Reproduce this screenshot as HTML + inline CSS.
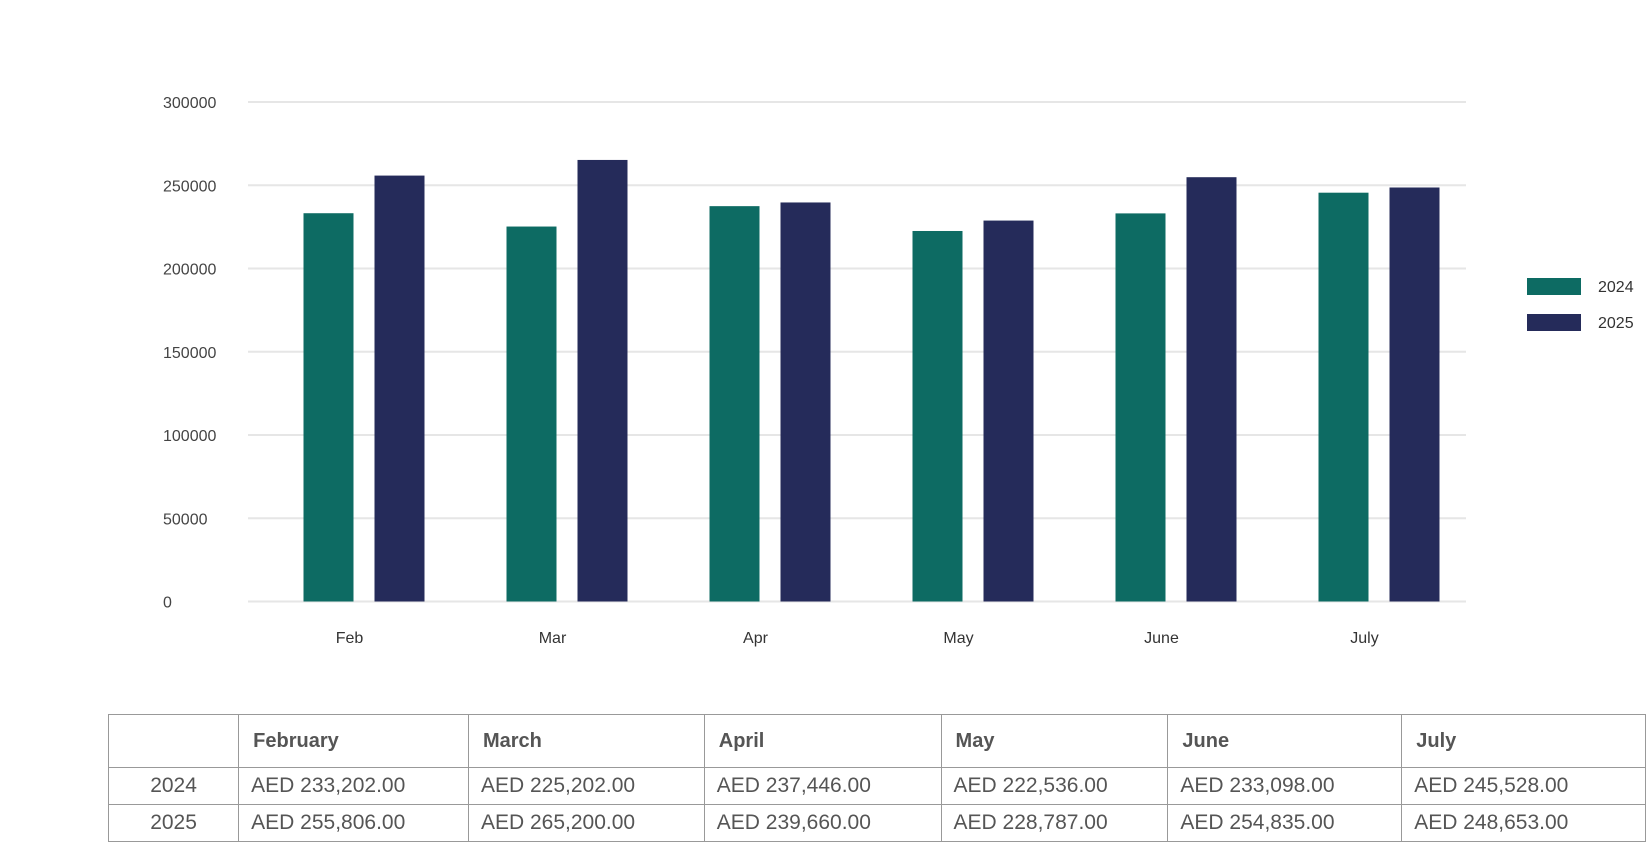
<!DOCTYPE html>
<html><head><meta charset="utf-8"><style>
body{margin:0;width:1646px;height:850px;background:#fff;overflow:hidden;font-family:"Liberation Sans",sans-serif;position:relative}
svg{position:absolute;left:0;top:0}
table{position:absolute;left:108px;top:714px;border-collapse:collapse;color:#555;font-size:21px}
td{border:1.5px solid #999;padding:0 0 0 12px;height:36px}
tr.h td{font-weight:bold;height:52px;font-size:20px;padding-left:14px}
td.y{text-align:center;padding:0}
</style></head><body>
<svg id="chart" width="1646" height="700"></svg>
<table>
<tr class="h"><td style="width:116px"></td><td style="width:216px">February</td><td style="width:222px">March</td><td style="width:223px">April</td><td style="width:213px">May</td><td style="width:220px">June</td><td style="width:230px">July</td></tr>
<tr><td class="y">2024</td><td>AED 233,202.00</td><td>AED 225,202.00</td><td>AED 237,446.00</td><td>AED 222,536.00</td><td>AED 233,098.00</td><td>AED 245,528.00</td></tr>
<tr><td class="y">2025</td><td>AED 255,806.00</td><td>AED 265,200.00</td><td>AED 239,660.00</td><td>AED 228,787.00</td><td>AED 254,835.00</td><td>AED 248,653.00</td></tr>
</table>
<script>
const categories=["Feb","Mar","Apr","May","June","July"];
const series2024=[233202,225202,237446,222536,233098,245528];
const series2025=[255806,265200,239660,228787,254835,248653];
const yTicks=[0,50000,100000,150000,200000,250000,300000];
const svg=document.getElementById('chart');
const NS='http://www.w3.org/2000/svg';
const L=248,R=1466,T=102,B=601.5,yMax=300000;
const y=v=>B-(v/yMax)*(B-T);
const bw=(R-L)/categories.length;
const x=i=>L+bw*(i+0.5);
function el(t,a){const e=document.createElementNS(NS,t);for(const k in a)e.setAttribute(k,a[k]);svg.appendChild(e);return e;}
yTicks.forEach(v=>{
 const g=el('line',{x1:L,x2:R,y1:y(v),y2:y(v),stroke:'#e6e6e6','stroke-width':2});
 
 
 const t=el('text',{x:163,y:y(v)+6,'font-size':16,fill:'#444','font-family':'Liberation Sans, sans-serif'});
 t.textContent=v;
 
 
});
categories.forEach((c,i)=>{
 const a=el('rect',{x:x(i)-46,y:y(series2024[i]),width:50,height:B-y(series2024[i]),fill:'#0d6b63'});
 
 
 const b=el('rect',{x:x(i)+25-46+46,y:y(series2025[i]),width:50,height:B-y(series2025[i]),fill:'#252b5a'});
 
 
 const t=el('text',{x:x(i),y:643,'font-size':16,fill:'#333','text-anchor':'middle','font-family':'Liberation Sans, sans-serif'});
 t.textContent=c;
 
 
});
[['2024','#0d6b63',278],['2025','#252b5a',314]].forEach(([n,c,yy])=>{
 const r=el('rect',{x:1527,y:yy,width:54,height:17,fill:c});
 
 
 const t=el('text',{x:1598,y:yy+14,'font-size':16,fill:'#333','font-family':'Liberation Sans, sans-serif'});
 t.textContent=n;
 
 
});
</script>
</body></html>
